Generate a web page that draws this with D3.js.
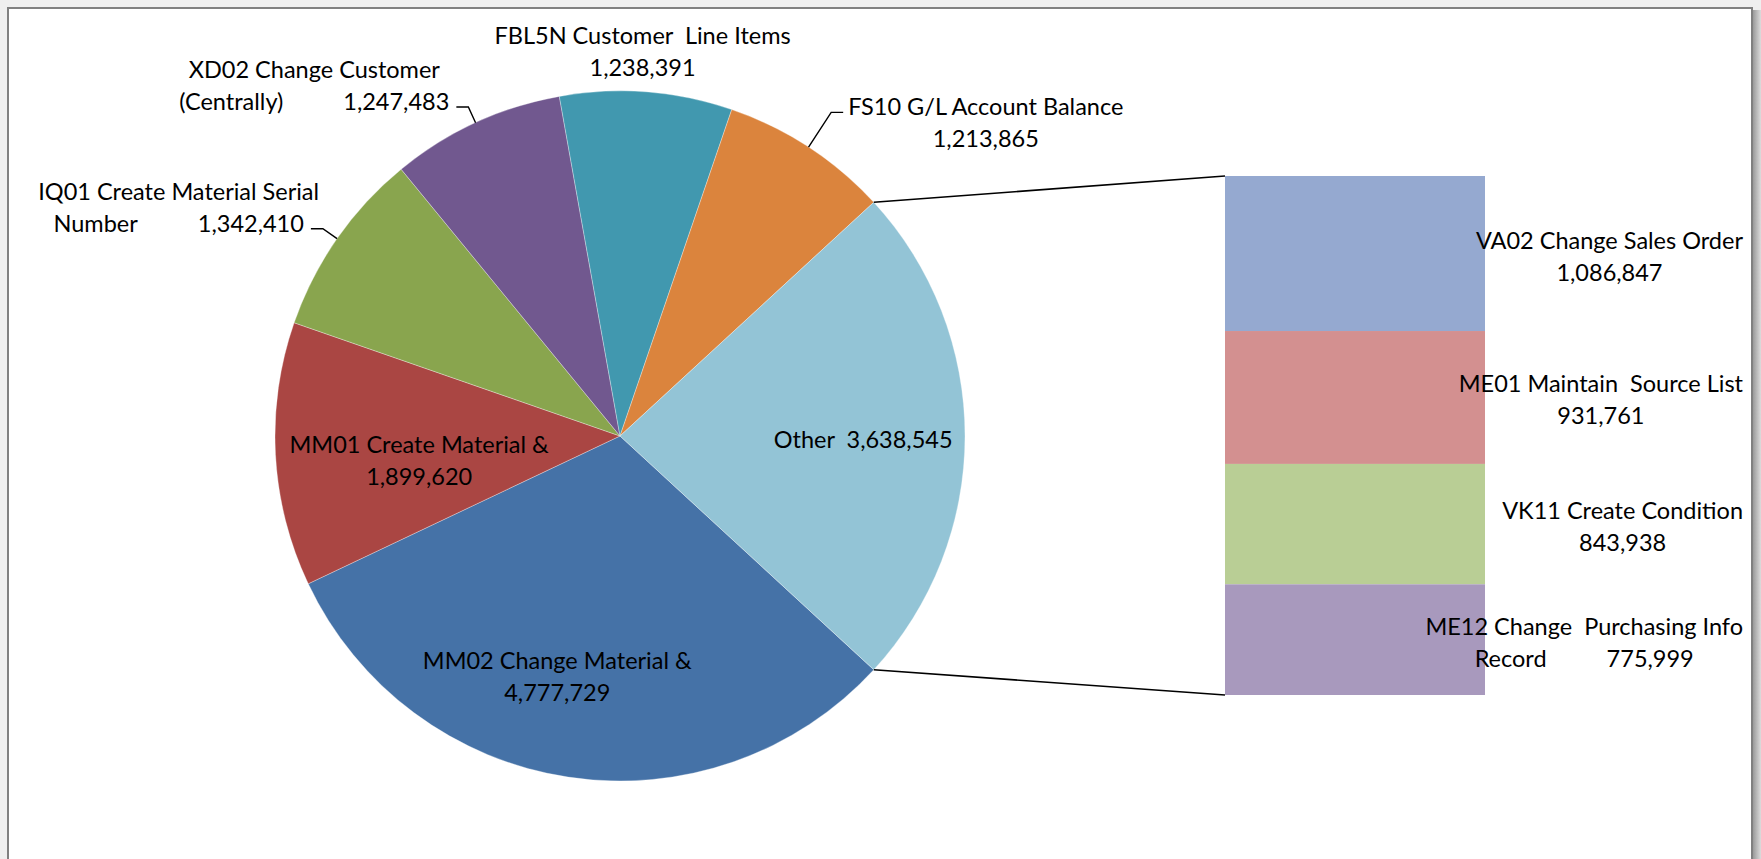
<!DOCTYPE html>
<html>
<head>
<meta charset="utf-8">
<script src="https://d3js.org/d3.v7.min.js"></script>
<style>
  body { margin: 0; overflow: hidden; background: #efefef; }
  svg text { font-family: Lato, "Open Sans", sans-serif; font-size: 23.5px; fill: #000; white-space: pre; }
</style>
</head>
<body>
<svg id="chart" width="1761" height="859"></svg>
<script>
// main pie: "Other" is split out into the bar on the right
var mainNames = ["MM02 Change Material &", "MM01 Create Material &", "IQ01 Create Material Serial\nNumber",
    "XD02 Change Customer\n(Centrally)", "FBL5N Customer  Line Items", "FS10 G/L Account Balance", "Other"];
var mainValues = [4777729, 1899620, 1342410, 1247483, 1238391, 1213865, 3638545];
var mainSeps = ["\n", "\n", "\t", "\t", "\n", "\n", "  "];
var mainColors = ["#4572A7", "#AA4643", "#89A54E", "#71588F", "#4198AF", "#DB843D", "#93C4D6"];

// secondary bar (breakdown of "Other")
var subNames = ["VA02 Change Sales Order", "ME01 Maintain  Source List", "VK11 Create Condition",
    "ME12 Change  Purchasing Info\nRecord"];
var subValues = [1086847, 931761, 843938, 775999];
var subSeps = ["\n", "\n", "\n", "\t"];
var subColors = ["#95A9D0", "#D39090", "#B9CE95", "#A899BD"];

// where each main label goes, and small hand nudges (px) like the moved labels in the original
var mainLabelModes = ["in", "in", "left", "left", "top", "right", "in"];
var labelNudge = [[-28, 11], [30, 12], [0, 0], [0, 0], [-7, 0], [0, 0], [12, 3]];

var cx = 620, cy = 436, r = 345;
var barX = 1225, barW = 260, barTop = 176, barBottom = 695;
var lineH = 32, tabGap = 60;
var fmt = d3.format(",");

var svg = d3.select("#chart");

// frame with shadow on the right
var defs = svg.append("defs");
var grad = defs.append("linearGradient").attr("id", "shadow");
grad.append("stop").attr("offset", "0%").attr("stop-color", "#9a9a9a");
grad.append("stop").attr("offset", "100%").attr("stop-color", "#dcdcdc");
svg.append("rect").attr("x", 1753).attr("y", 10).attr("width", 8).attr("height", 859).attr("fill", "url(#shadow)");
svg.append("rect").attr("x", 8).attr("y", 8).attr("width", 1744).attr("height", 900)
    .attr("fill", "#fff").attr("stroke", "#808080").attr("stroke-width", 2);

// pie
var total = d3.sum(mainValues);
var otherAngle = 2 * Math.PI * mainValues[6] / total;
var start = Math.PI / 2 + otherAngle / 2;
var pie = d3.pie().sort(null).startAngle(start).endAngle(start + 2 * Math.PI);
var arcs = pie(mainValues);
var arc = d3.arc().innerRadius(0).outerRadius(r);
var inArc = d3.arc().innerRadius(r * 0.67).outerRadius(r * 0.67);

var pieG = svg.append("g").attr("transform", `translate(${cx},${cy})`);
pieG.selectAll("path.slice")
    .data(arcs)
    .enter().append("path")
    .attr("class", "slice")
    .attr("d", arc)
    .attr("fill", (d, i) => mainColors[i])
    .attr("stroke", "rgba(255,255,255,0.45)")
    .attr("stroke-width", 0.7);

function pt(a, rad) {
    return [cx + rad * Math.sin(a), cy - rad * Math.cos(a)];
}

// secondary bar
var y = d3.scaleLinear().domain([0, d3.sum(subValues)]).range([barTop, barBottom]);
var cum = [0].concat(Array.from(d3.cumsum(subValues)));
svg.selectAll("rect.seg")
    .data(subValues)
    .enter().append("rect")
    .attr("class", "seg")
    .attr("x", barX)
    .attr("width", barW)
    .attr("y", (d, i) => y(cum[i]))
    .attr("height", (d, i) => y(cum[i + 1]) - y(cum[i]))
    .attr("fill", (d, i) => subColors[i]);

// connector lines
var oArc = arcs[6];
var p1 = pt(oArc.startAngle, r), p2 = pt(oArc.endAngle, r);
svg.append("path").attr("d", `M${p1[0]},${p1[1]}L${barX},${barTop}`)
    .attr("stroke", "#000").attr("stroke-width", 1.6).attr("fill", "none");
svg.append("path").attr("d", `M${p2[0]},${p2[1]}L${barX},${barBottom}`)
    .attr("stroke", "#000").attr("stroke-width", 1.6).attr("fill", "none");

// label helpers
function labelLines(name, value, sep) {
    var parts = name.split("\n").map(p => [p]);
    var v = fmt(value);
    if (sep === "\n") parts.push([v]);
    else if (sep === "\t") parts[parts.length - 1].push(v);
    else parts[parts.length - 1][0] += sep + v;
    return parts;
}

function drawLabel(lines) {
    var g = svg.append("g").attr("class", "label");
    var widths = [];
    lines.forEach((segs, li) => {
        var texts = segs.map(s => g.append("text")
            .attr("xml:space", "preserve")
            .attr("y", li * lineH)
            .attr("dominant-baseline", "central")
            .text(s));
        var ws = texts.map(t => t.node().getComputedTextLength());
        var w = d3.sum(ws) + (segs.length - 1) * tabGap;
        var x = -w / 2;
        texts.forEach((t, k) => {
            t.attr("x", x);
            x += ws[k] + tabGap;
        });
        widths.push(w);
    });
    return { g: g, widths: widths, n: lines.length, maxW: d3.max(widths) };
}

// main labels
arcs.forEach((d, i) => {
    var lab = drawLabel(labelLines(mainNames[i], mainValues[i], mainSeps[i]));
    var mode = mainLabelModes[i];
    var mid = (d.startAngle + d.endAngle) / 2;
    var tx, ty;
    if (mode === "in") {
        var c = inArc.centroid(d);
        tx = cx + c[0];
        ty = cy + c[1] - (lab.n - 1) * lineH / 2;
    } else if (mode === "top") {
        var p = pt(mid, r * 1.12);
        tx = p[0];
        ty = p[1] - (lab.n - 1) * lineH / 2;
    } else {
        var side = mode === "left" ? -1 : 1;
        var a = pt(mid, r), e = pt(mid, mode === "left" ? r * 1.05 : r * 1.12);
        var endX = e[0] + side * 12;
        svg.append("path")
            .attr("d", `M${a[0]},${a[1]}L${e[0]},${e[1]}L${endX},${e[1]}`)
            .attr("stroke", "#000").attr("stroke-width", 1.4).attr("fill", "none");
        if (mode === "left") {
            tx = endX - 7 - lab.widths[lab.n - 1] / 2;
            ty = e[1] - 6 - (lab.n - 1) * lineH;
        } else {
            tx = endX + 5 + lab.widths[0] / 2;
            ty = e[1] - 6;
        }
    }
    lab.g.attr("transform", `translate(${tx + labelNudge[i][0]},${ty + labelNudge[i][1]})`);
});

// bar labels, right-aligned block, centred on each segment
subValues.forEach((v, i) => {
    var lab = drawLabel(labelLines(subNames[i], v, subSeps[i]));
    var midY = (y(cum[i]) + y(cum[i + 1])) / 2 + 2;
    lab.g.attr("transform", `translate(${1743 - lab.maxW / 2},${midY - (lab.n - 1) * lineH / 2})`);
});
</script>
</body>
</html>
